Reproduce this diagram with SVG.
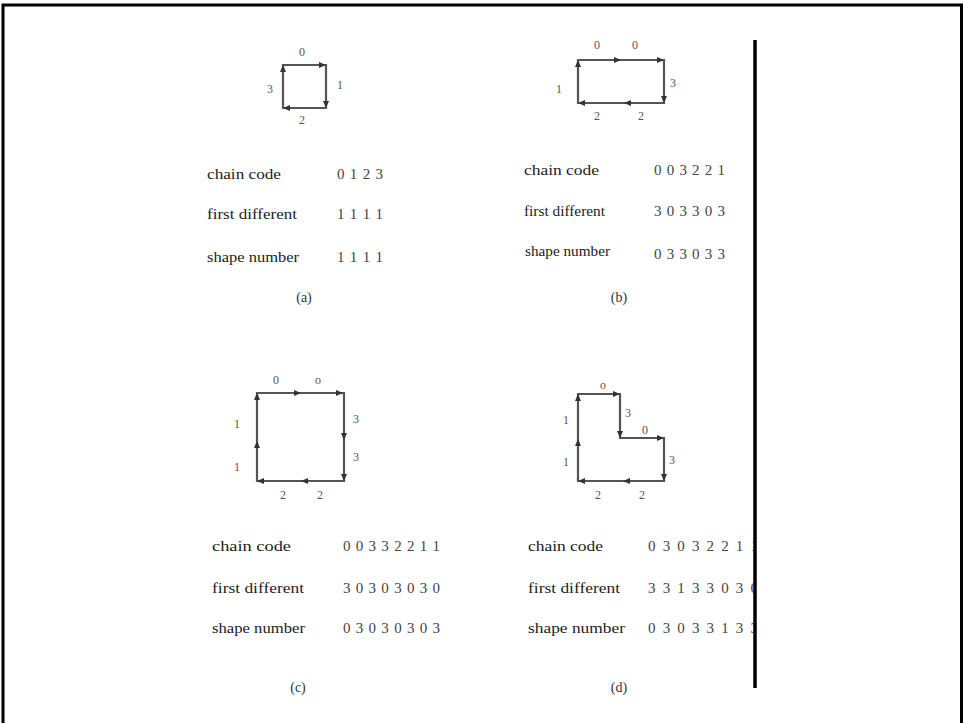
<svg xmlns="http://www.w3.org/2000/svg" xmlns:xlink="http://www.w3.org/1999/xlink" width="963" height="723" viewBox="0 0 963 723">
<style>
.bg{fill:#fff}
.frame{fill:none;stroke:#000;stroke-width:3}
.shape{fill:none;stroke:#555;stroke-width:2.2}
.ah{fill:#333}
.lbl{font-family:"Liberation Serif","DejaVu Serif",serif;font-size:12px;fill:#555;text-anchor:middle}
.row{font-family:"Liberation Serif","DejaVu Serif",serif;font-size:15px;fill:#222}
.val{font-family:"Liberation Serif","DejaVu Serif",serif;font-size:15px;fill:#444}
.cap{font-family:"Liberation Serif","DejaVu Serif",serif;font-size:14px;fill:#333;text-anchor:middle}
</style>
<defs>
<path id="ah" d="M0,0 L-7,-3 L-7,3 Z"/>
<clipPath id="clipd"><rect x="0" y="0" width="753" height="723"/></clipPath>
</defs>
<rect class="bg" x="0" y="0" width="963" height="723"/>
<path class="frame" d="M3,723 V5 H961.5 V723"/>
<line x1="755" y1="40" x2="755" y2="688" stroke="#000" stroke-width="3.5"/>

<g id="connectors">
<path class="shape" d="M283,65 H326 V108 H283 Z"/>
<path class="shape" d="M578,60 H664 V103 H578 Z"/>
<path class="shape" d="M257,393 H344 V481 H257 Z"/>
<path class="shape" d="M578,481 V394 H620 V438 H664 V481 Z"/>
</g>

<g id="panel-a">
<g class="ah">
<use xlink:href="#ah" transform="translate(326,65)"/>
<use xlink:href="#ah" transform="translate(326,108) rotate(90)"/>
<use xlink:href="#ah" transform="translate(283,108) rotate(180)"/>
<use xlink:href="#ah" transform="translate(283,65) rotate(-90)"/>
</g>
<text class="lbl" x="302" y="56">0</text>
<text class="lbl" x="340" y="89">1</text>
<text class="lbl" x="270" y="93">3</text>
<text class="lbl" x="302" y="124">2</text>
<text class="row" x="207" y="179" textLength="74" lengthAdjust="spacingAndGlyphs">chain code</text>
<text class="val" x="337" y="179" textLength="46" lengthAdjust="spacing">0 1 2 3</text>
<text class="row" x="207" y="219" textLength="90" lengthAdjust="spacingAndGlyphs">first different</text>
<text class="val" x="337" y="219" textLength="46" lengthAdjust="spacing">1 1 1 1</text>
<text class="row" x="207" y="262" textLength="92" lengthAdjust="spacingAndGlyphs">shape number</text>
<text class="val" x="337" y="262" textLength="46" lengthAdjust="spacing">1 1 1 1</text>
<text class="cap" x="304" y="302">(a)</text>
</g>

<g id="panel-b">
<g class="ah">
<use xlink:href="#ah" transform="translate(621,60)"/>
<use xlink:href="#ah" transform="translate(664,60)"/>
<use xlink:href="#ah" transform="translate(664,103) rotate(90)"/>
<use xlink:href="#ah" transform="translate(624,103) rotate(180)"/>
<use xlink:href="#ah" transform="translate(578,103) rotate(180)"/>
<use xlink:href="#ah" transform="translate(578,60) rotate(-90)"/>
</g>
<text class="lbl" x="597" y="49">0</text>
<text class="lbl" x="635" y="49">0</text>
<text class="lbl" x="673" y="87">3</text>
<text class="lbl" x="559" y="93">1</text>
<text class="lbl" x="597" y="120">2</text>
<text class="lbl" x="641" y="120">2</text>
<text class="row" x="524" y="175" textLength="75" lengthAdjust="spacingAndGlyphs">chain code</text>
<text class="val" x="654" y="175" textLength="71" lengthAdjust="spacing">0 0 3 2 2 1</text>
<text class="row" x="524" y="216" textLength="81" lengthAdjust="spacingAndGlyphs">first different</text>
<text class="val" x="654" y="216" textLength="71" lengthAdjust="spacing">3 0 3 3 0 3</text>
<text class="row" x="525" y="256" textLength="85" lengthAdjust="spacingAndGlyphs">shape number</text>
<text class="val" x="654" y="259" textLength="71" lengthAdjust="spacing">0 3 3 0 3 3</text>
<text class="cap" x="619" y="302">(b)</text>
</g>

<g id="panel-c">
<g class="ah">
<use xlink:href="#ah" transform="translate(301,393)"/>
<use xlink:href="#ah" transform="translate(343,393)"/>
<use xlink:href="#ah" transform="translate(344,440) rotate(90)"/>
<use xlink:href="#ah" transform="translate(344,481) rotate(90)"/>
<use xlink:href="#ah" transform="translate(301,481) rotate(180)"/>
<use xlink:href="#ah" transform="translate(257,481) rotate(180)"/>
<use xlink:href="#ah" transform="translate(257,441) rotate(-90)"/>
<use xlink:href="#ah" transform="translate(257,393) rotate(-90)"/>
</g>
<text class="lbl" x="276" y="384">0</text>
<text class="lbl" x="318" y="384">o</text>
<text class="lbl" x="356" y="423">3</text>
<text class="lbl" x="356" y="461">3</text>
<text class="lbl" x="237" y="428">1</text>
<text class="lbl" x="237" y="471">1</text>
<text class="lbl" x="283" y="499">2</text>
<text class="lbl" x="320" y="499">2</text>
<text class="row" x="212" y="551" textLength="79" lengthAdjust="spacingAndGlyphs">chain code</text>
<text class="val" x="343" y="551" textLength="97" lengthAdjust="spacing">0 0 3 3 2 2 1 1</text>
<text class="row" x="212" y="593" textLength="92" lengthAdjust="spacingAndGlyphs">first different</text>
<text class="val" x="343" y="593" textLength="97" lengthAdjust="spacing">3 0 3 0 3 0 3 0</text>
<text class="row" x="212" y="633" textLength="93" lengthAdjust="spacingAndGlyphs">shape number</text>
<text class="val" x="343" y="633" textLength="97" lengthAdjust="spacing">0 3 0 3 0 3 0 3</text>
<text class="cap" x="298" y="692">(c)</text>
</g>

<g id="panel-d">
<g class="ah">
<use xlink:href="#ah" transform="translate(578,439) rotate(-90)"/>
<use xlink:href="#ah" transform="translate(578,394) rotate(-90)"/>
<use xlink:href="#ah" transform="translate(620,394)"/>
<use xlink:href="#ah" transform="translate(620,438) rotate(90)"/>
<use xlink:href="#ah" transform="translate(664,438)"/>
<use xlink:href="#ah" transform="translate(664,481) rotate(90)"/>
<use xlink:href="#ah" transform="translate(623,481) rotate(180)"/>
<use xlink:href="#ah" transform="translate(578,481) rotate(180)"/>
</g>
<text class="lbl" x="603" y="389">o</text>
<text class="lbl" x="628" y="417">3</text>
<text class="lbl" x="645" y="434">0</text>
<text class="lbl" x="672" y="464">3</text>
<text class="lbl" x="566" y="424">1</text>
<text class="lbl" x="566" y="466">1</text>
<text class="lbl" x="598" y="499">2</text>
<text class="lbl" x="642" y="499">2</text>
<text class="row" x="528" y="551" textLength="75" lengthAdjust="spacingAndGlyphs">chain code</text>
<text class="row" x="528" y="593" textLength="92" lengthAdjust="spacingAndGlyphs">first different</text>
<text class="row" x="528" y="633" textLength="97" lengthAdjust="spacingAndGlyphs">shape number</text>
<g clip-path="url(#clipd)">
<text class="val" x="648" y="551" textLength="110" lengthAdjust="spacing">0 3 0 3 2 2 1 1</text>
<text class="val" x="648" y="593" textLength="110" lengthAdjust="spacing">3 3 1 3 3 0 3 0</text>
<text class="val" x="648" y="633" textLength="110" lengthAdjust="spacing">0 3 0 3 3 1 3 3</text>
</g>
<text class="cap" x="619" y="692">(d)</text>
</g>
</svg>
